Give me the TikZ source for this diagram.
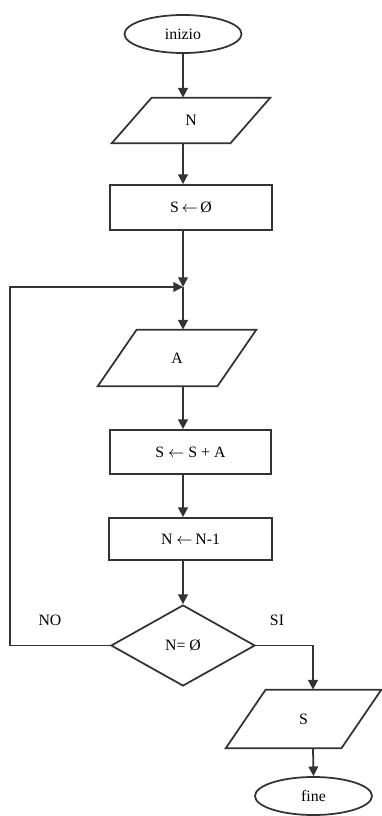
\documentclass[tikz,border=0pt]{standalone}
\usepackage{fontspec}
\setmainfont{Liberation Serif}
\usetikzlibrary{shapes.geometric,arrows.meta}
\newcommand\drawpar[2]{\draw[lin] (#1.south west) -- ([xshift=-#2*0.2mm]#1.south east) -- (#1.north east) -- ([xshift=#2*0.2mm]#1.north west) -- cycle;}
\newcommand\larr{\ensuremath{\leftarrow}}
\begin{document}
\begin{tikzpicture}[x=0.2mm,y=-0.2mm,
  lin/.style={draw=black!80, line width=1pt},
  arr/.style={lin, -{Triangle[length=5.5pt,width=5.5pt]}},
  txt/.style={font=\fontsize{9}{10}\selectfont, inner sep=0pt},
  term/.style={txt, ellipse, lin, minimum width={117*0.2mm}, minimum height={38*0.2mm}},
  pbox/.style={txt},
  rbox/.style={txt, rectangle, lin},
  dia/.style={txt, diamond, lin, minimum width={144*0.2mm}, minimum height={81*0.2mm}}]
\useasboundingbox (0,0) rectangle (382,816);

\node[term] (ini) at (183,34) {inizio};
\node[pbox, minimum width={158*0.2mm}, minimum height={45*0.2mm}] (N) at (191,120.5) {N};
\drawpar{N}{40}
\node[rbox, minimum width={162*0.2mm}, minimum height={45*0.2mm}] (S0) at (191,207.5) {S\,\larr\,Ø};
\coordinate (J) at (183,287);
\node[pbox, minimum width={158*0.2mm}, minimum height={56*0.2mm}] (A) at (177,358) {A};
\drawpar{A}{39}
\node[rbox, minimum width={161*0.2mm}, minimum height={44*0.2mm}] (SA) at (190.5,452) {S \larr\ S + A};
\node[rbox, minimum width={163*0.2mm}, minimum height={42*0.2mm}] (NN) at (190.5,539) {N \larr\,N-1};
\node[dia] (D) at (183,645.5) {N= Ø};
\coordinate (L) at (10,645.5);
\coordinate (R) at (313,645.5);
\node[pbox, minimum width={155*0.2mm}, minimum height={58*0.2mm}] (S) at (303.5,719) {S};
\drawpar{S}{40}
\node[term] (fin) at (313.5,796) {fine};

\node[txt] (no) at (50,620) {NO};
\node[txt] (si) at (277,620) {SI};

\draw[arr] (ini.south) -- (ini.south |- N.north);
\draw[arr] (ini.south |- N.south) -- (ini.south |- S0.north);
\draw[arr] (ini.south |- S0.south) -- (J);
\draw[arr] (J) -- (J |- A.north);
\draw[arr] (J |- A.south) -- (J |- SA.north);
\draw[arr] (J |- SA.south) -- (J |- NN.north);
\draw[arr] (J |- NN.south) -- (D.north);
\draw[arr] (D.west) -- (L) -- (L |- J) -- (J);
\draw[arr] (D.east) -- (R) -- (R |- S.north);
\draw[arr] (R |- S.south) -- (fin.north);
\end{tikzpicture}
\end{document}
